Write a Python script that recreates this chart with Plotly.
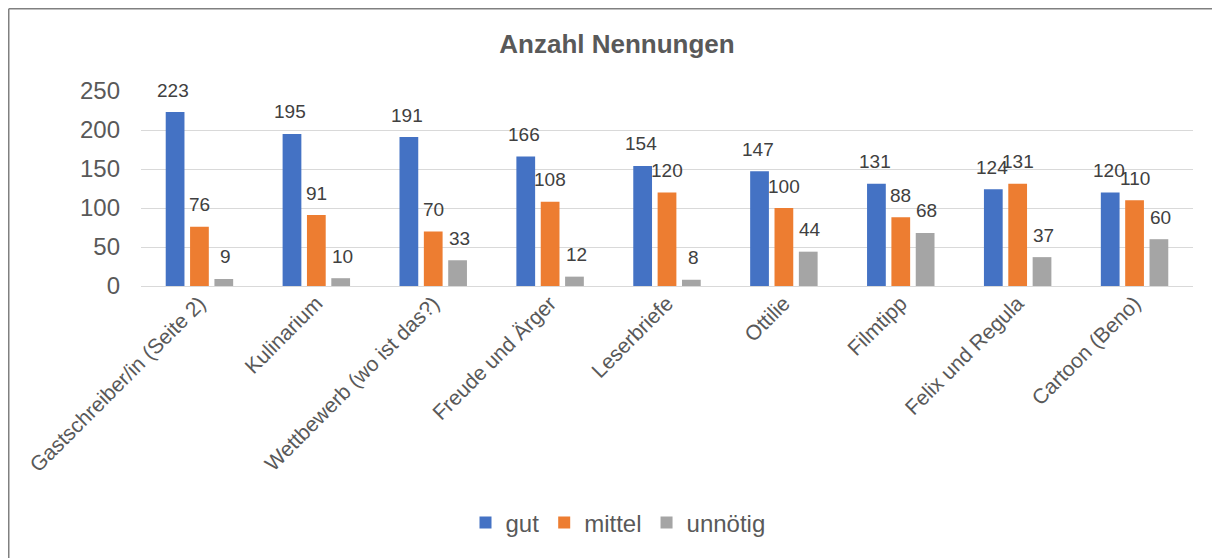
import plotly.graph_objects as go

categories = ["Gastschreiber/in (Seite 2)", "Kulinarium", "Wettbewerb (wo ist das?)",
              "Freude und Ärger", "Leserbriefe", "Ottilie", "Filmtipp",
              "Felix und Regula", "Cartoon (Beno)"]
gut = [223, 195, 191, 166, 154, 147, 131, 124, 120]
mittel = [76, 91, 70, 108, 120, 100, 88, 131, 110]
unnoetig = [9, 10, 33, 12, 8, 44, 68, 37, 60]
series_names = ["gut", "mittel", "unnötig"]
colors = ["#4472C4", "#ED7D31", "#A5A5A5"]
y_ticks = [0, 50, 100, 150, 200, 250]

FONT = "Liberation Sans, Arial, sans-serif"
fig = go.Figure()
all_series = [gut, mittel, unnoetig]
for name, vals, col in zip(series_names, all_series, colors):
    fig.add_trace(go.Bar(x=categories, y=vals, name=name, marker_color=col,
                         marker_line_width=0))

shifts = [-26, 0, 26]
for vals, sh in zip(all_series, shifts):
    for c, v in zip(categories, vals):
        fig.add_annotation(x=c, y=v, text=str(v), showarrow=False, xshift=sh,
                           yshift=22, font=dict(family=FONT, size=19, color="#404040"))

# page body has an 8px margin; figure is placed at (8, 8)
OFF = 8
W, H = 1220 - OFF, 558 - OFF
L = 141 - OFF
T = 91 - OFF
plot_bottom = 286 - OFF
plot_right = 1193 - OFF
R = W - plot_right
B = H - plot_bottom
pw = W - L - R
ph = H - T - B

fig.update_layout(
    width=W, height=H,
    margin=dict(l=L, r=R, t=T, b=B),
    barmode="group", bargap=0.375, bargroupgap=0.23,
    plot_bgcolor="white", paper_bgcolor="white",
    font=dict(family=FONT, color="#595959"),
    title=dict(text="<b>Anzahl Nennungen</b>", x=(617 - OFF) / W, xanchor="center",
               y=1 - (44 - OFF) / H, yanchor="middle",
               font=dict(family=FONT, size=26, color="#595959")),
    xaxis=dict(tickangle=-45, tickfont=dict(family=FONT, size=21, color="#595959"),
               showline=False, ticks="", showgrid=False),
    yaxis=dict(range=[0, 250], tickvals=y_ticks, showgrid=True, gridcolor="#D9D9D9",
               gridwidth=1, zeroline=True, zerolinecolor="#D9D9D9", zerolinewidth=1,
               tickfont=dict(family=FONT, size=24, color="#595959"), ticks="",
               ticklabelstandoff=20),
    legend=dict(orientation="h", x=(618 - OFF - L) / pw, xanchor="center",
                y=-(523 - 286) / ph, yanchor="middle",
                font=dict(family=FONT, size=24, color="#595959"),
                itemwidth=30, tracegroupgap=0),
    showlegend=True,
)

x_left = (0.75 - L) / pw
y_top = (plot_bottom - 0.75) / ph
fig.add_shape(type="line", xref="paper", yref="paper", x0=x_left, x1=x_left,
              y0=y_top, y1=-2, line=dict(color="#808080", width=1.5))
fig.add_shape(type="line", xref="paper", yref="paper", x0=x_left, x1=1.2,
              y0=y_top, y1=y_top, line=dict(color="#808080", width=1.5))

fig.write_html("out.html")
